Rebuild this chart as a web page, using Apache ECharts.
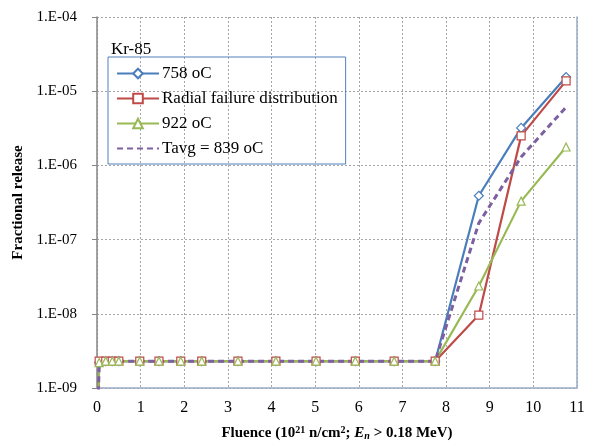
<!DOCTYPE html>
<html>
<head>
<meta charset="utf-8">
<script src="https://cdn.jsdelivr.net/npm/echarts@6/dist/echarts.min.js"></script>
<style>
  html, body { margin: 0; padding: 0; background: #fff; }
  #main { width: 593px; height: 446px; }
</style>
</head>
<body>
<div id="main"></div>
<script>
var fluence = [0, 0.05, 0.2, 0.35, 0.5, 0.98, 1.42, 1.92, 2.4, 3.23, 4.1, 5.02, 5.92, 6.81, 7.75, 8.75, 9.72, 10.75];
var t758 = [1e-10, 2.2e-9, 2.3e-9, 2.3e-9, 2.3e-9, 2.3e-9, 2.3e-9, 2.3e-9, 2.3e-9, 2.3e-9, 2.3e-9, 2.3e-9, 2.3e-9, 2.3e-9, 2.3e-9, 3.9e-7, 3.2e-6, 1.55e-5];
var radial = [1e-10, 2.3e-9, 2.3e-9, 2.3e-9, 2.3e-9, 2.3e-9, 2.3e-9, 2.3e-9, 2.3e-9, 2.3e-9, 2.3e-9, 2.3e-9, 2.3e-9, 2.3e-9, 2.3e-9, 9.6e-9, 2.5e-6, 1.38e-5];
var t922 = [1e-10, 2.2e-9, 2.3e-9, 2.3e-9, 2.3e-9, 2.3e-9, 2.3e-9, 2.3e-9, 2.3e-9, 2.3e-9, 2.3e-9, 2.3e-9, 2.3e-9, 2.3e-9, 2.3e-9, 2.37e-8, 3.3e-7, 1.77e-6];
var tavg = [1e-10, 2.3e-9, 2.3e-9, 2.3e-9, 2.3e-9, 2.3e-9, 2.3e-9, 2.3e-9, 2.3e-9, 2.3e-9, 2.3e-9, 2.3e-9, 2.3e-9, 2.3e-9, 2.3e-9, 1.67e-7, 1.3e-6, 6.1e-6];
var names = ['758 oC', 'Radial failure distribution', '922 oC', 'Tavg = 839 oC'];

function pairs(ys) {
  return fluence.map(function (x, i) { return [x, ys[i]]; });
}

var myChart = echarts.init(document.getElementById('main'));
var font = 'Liberation Serif';

function mk(name, ys, color, symbol, dashed) {
  return {
    name: name,
    type: 'line',
    data: pairs(ys),
    symbol: dashed ? 'none' : symbol,
    symbolSize: symbol === 'diamond' ? 9 : 8,
    showSymbol: !dashed,
    itemStyle: { color: '#fff', borderColor: color, borderWidth: 1.2 },
    lineStyle: { color: color, width: dashed ? 3 : 2.2, type: dashed ? [6, 4] : 'solid' },
    emphasis: { disabled: true },
    animation: false
  };
}

myChart.setOption({
  animation: false,
  title: {
    text: 'Kr-85',
    left: 106, top: 36,
    textStyle: { fontFamily: font, fontSize: 17, fontWeight: 'normal', color: '#000' }
  },
  legend: {
    orient: 'vertical',
    left: 108, top: 57,
    padding: [8, 8, 7, 8],
    itemWidth: 42, itemHeight: 12, itemGap: 8,
    borderColor: '#4f81bd', borderWidth: 1,
    textStyle: { fontFamily: font, fontSize: 17, color: '#000', padding: [0, 0, 0, -2] },
    data: [
      names[0], names[1], names[2],
      { name: names[3], itemStyle: { opacity: 0 } }
    ]
  },
  grid: { left: 97, right: 16, top: 17, bottom: 58, outerBoundsMode: 'none' },
  xAxis: {
    type: 'value', min: 0, max: 11, interval: 1,
    name: '{b|Fluence (10}{sup|21}{b| n/cm}{sup|2}{b|; }{i|E}{sub|n}{b| > 0.18 MeV)}',
    nameLocation: 'middle', nameGap: 37,
    nameTextStyle: {
      rich: {
        b: { fontFamily: font, fontSize: 15, fontWeight: 'bold', color: '#000' },
        i: { fontFamily: font, fontSize: 15, fontWeight: 'bold', fontStyle: 'italic', color: '#000' },
        sup: { fontFamily: font, fontSize: 10, fontWeight: 'bold', color: '#000', verticalAlign: 'top', padding: [0, 0, 6, 0] },
        sub: { fontFamily: font, fontSize: 10, fontWeight: 'bold', fontStyle: 'italic', color: '#000', verticalAlign: 'bottom', padding: [6, 0, 0, 0] }
      }
    },
    axisLine: { show: true, onZero: false, lineStyle: { color: '#9aabc6', width: 1.5 } },
    axisTick: { show: false },
    axisLabel: { fontFamily: font, fontSize: 16, color: '#000', margin: 12 },
    splitLine: { show: true, lineStyle: { color: '#a6a6a6', type: [2, 2], width: 1 } }
  },
  yAxis: [{
    type: 'log', logBase: 10, min: 1e-9, max: 1e-4,
    name: 'Fractional release',
    nameLocation: 'middle', nameGap: 69, nameRotate: 90,
    nameTextStyle: { fontFamily: font, fontSize: 15, fontWeight: 'bold', color: '#000' },
    axisLine: { show: true, lineStyle: { color: '#868686', width: 1.5 } },
    axisTick: { show: true, inside: false, length: 5, lineStyle: { color: '#868686' } },
    axisLabel: {
      fontFamily: font, fontSize: 15, color: '#000', margin: 20,
      formatter: function (v) {
        var e = Math.round(Math.log10(v));
        var s = Math.abs(e) < 10 ? '0' + Math.abs(e) : '' + Math.abs(e);
        return '1.E' + (e < 0 ? '-' : '+') + s;
      }
    },
    minorTick: { show: false },
    splitLine: { show: true, lineStyle: { color: '#a6a6a6', type: [2, 2], width: 1 } }
  }, {
    type: 'log', logBase: 10, min: 1e-9, max: 1e-4, position: 'right',
    axisLine: { show: true, lineStyle: { color: '#9aabc6', width: 1.5 } },
    axisTick: { show: false }, axisLabel: { show: false }, splitLine: { show: false }
  }],
  series: [
    mk(names[0], t758, '#4a7ebb', 'diamond', false),
    mk(names[1], radial, '#be4b48', 'rect', false),
    mk(names[2], t922, '#98b954', 'triangle', false),
    mk(names[3], tavg, '#7d60a0', 'none', true)
  ]
});
</script>
</body>
</html>
